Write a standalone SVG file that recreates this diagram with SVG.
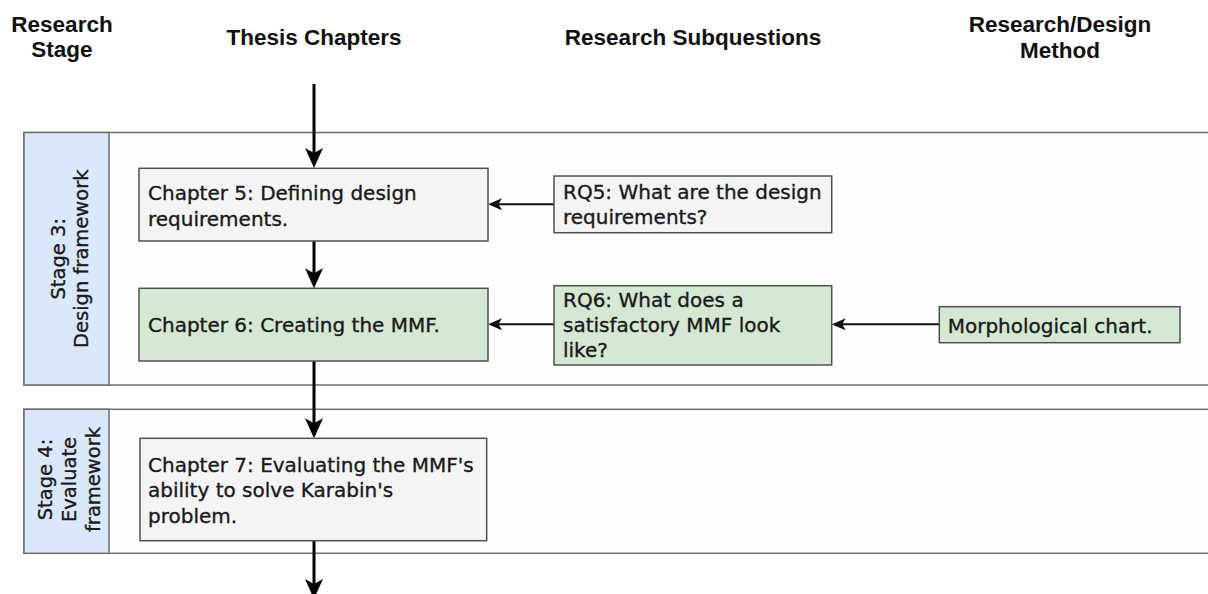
<svg xmlns="http://www.w3.org/2000/svg" width="1208" height="594" viewBox="0 0 1208 594">
  <style>
    .hdr { font-family: "Liberation Sans", Arial, sans-serif; font-weight: bold; font-size: 22.5px; fill: #111; text-anchor: middle; }
    .lane { fill: #fdfdfd; stroke: #6e6e6e; stroke-width: 1.5; }
    .lanelbl { fill: #dae8fc; stroke: #6e6e6e; stroke-width: 1.5; }
    .lbl { font-family: "DejaVu Sans", Verdana, sans-serif; font-size: 19.5px; fill: #1a1a1a; stroke: #1a1a1a; stroke-width: 0.35; text-anchor: middle; }
    .grey { fill: #f4f4f4; stroke: #505050; stroke-width: 1.5; }
    .green { fill: #d5e8d4; stroke: #505050; stroke-width: 1.5; }
    .txt { font-family: "DejaVu Sans", Verdana, sans-serif; font-size: 20px; fill: #1a1a1a; stroke: #1a1a1a; stroke-width: 0.35; }
    .flow { stroke: #000; stroke-width: 3; fill: none; marker-end: url(#bigArrow); }
    .feed { stroke: #111; stroke-width: 2; fill: none; marker-end: url(#smallArrow); }
  </style>
  <defs>
    <marker id="bigArrow" markerUnits="userSpaceOnUse" markerWidth="20" markerHeight="18" refX="10" refY="9" orient="auto">
      <path d="M0,0 L20,9 L0,18 L5,9 z" fill="#000"/>
    </marker>
    <marker id="smallArrow" markerUnits="userSpaceOnUse" markerWidth="14" markerHeight="12" refX="7" refY="6" orient="auto">
      <path d="M0,0 L14,6 L0,12 L3.5,6 z" fill="#111"/>
    </marker>
  </defs>

  <rect width="1208" height="594" fill="#ffffff"/>

  <!-- column headers -->
  <g id="headers">
    <text class="hdr" x="62" y="32">Research</text>
    <text class="hdr" x="62" y="57">Stage</text>
    <text class="hdr" x="314" y="45">Thesis Chapters</text>
    <text class="hdr" x="693" y="45">Research Subquestions</text>
    <text class="hdr" x="1060" y="32">Research/Design</text>
    <text class="hdr" x="1060" y="58">Method</text>
  </g>

  <!-- swimlane: stage 3 -->
  <g id="lane-stage3">
    <rect class="lane" x="24" y="132.5" width="1200" height="252.5"/>
    <rect class="lanelbl" x="24" y="132.5" width="85" height="252.5"/>
    <g transform="translate(0,258.75) rotate(-90)">
      <text class="lbl" x="0" y="65">Stage 3:</text>
      <text class="lbl" x="0" y="88">Design framework</text>
    </g>
  </g>

  <!-- swimlane: stage 4 -->
  <g id="lane-stage4">
    <rect class="lane" x="24" y="409.3" width="1200" height="144"/>
    <rect class="lanelbl" x="24" y="409.3" width="85" height="144"/>
    <g transform="translate(0,479.5) rotate(-90)">
      <text class="lbl" x="0" y="52">Stage 4:</text>
      <text class="lbl" x="0" y="76">Evaluate</text>
      <text class="lbl" x="0" y="100">framework</text>
    </g>
  </g>

  <!-- connectors -->
  <g id="connectors">
    <line class="flow" x1="314" y1="84" x2="314" y2="158"/>
    <line class="flow" x1="314" y1="241" x2="314" y2="278.3"/>
    <line class="flow" x1="314" y1="361" x2="314" y2="428.3"/>
    <line class="flow" x1="314" y1="540.7" x2="314" y2="589"/>
    <line class="feed" x1="554" y1="204.3" x2="495" y2="204.3"/>
    <line class="feed" x1="554" y1="324.3" x2="495" y2="324.3"/>
    <line class="feed" x1="939.3" y1="324.3" x2="838.7" y2="324.3"/>
  </g>

  <!-- chapter nodes -->
  <g id="ch5">
    <rect class="grey" x="139" y="168.3" width="349" height="72.7"/>
    <text class="txt" x="148" y="200">Chapter 5: Defining design</text>
    <text class="txt" x="148" y="225.5">requirements.</text>
  </g>
  <g id="ch6">
    <rect class="green" x="139" y="288.3" width="349" height="72.7"/>
    <text class="txt" x="148" y="331.5">Chapter 6: Creating the MMF.</text>
  </g>
  <g id="ch7">
    <rect class="grey" x="140" y="438.3" width="346.7" height="102.4"/>
    <text class="txt" x="148" y="471.5">Chapter 7: Evaluating the MMF's</text>
    <text class="txt" x="148" y="497">ability to solve Karabin's</text>
    <text class="txt" x="148" y="522.5">problem.</text>
  </g>

  <!-- research subquestion nodes -->
  <g id="rq5">
    <rect class="grey" x="554" y="176" width="277.7" height="56.7"/>
    <text class="txt" x="563" y="199">RQ5: What are the design</text>
    <text class="txt" x="563" y="223.5">requirements?</text>
  </g>
  <g id="rq6">
    <rect class="green" x="554" y="285.7" width="277.7" height="79.3"/>
    <text class="txt" x="563" y="306.7">RQ6: What does a</text>
    <text class="txt" x="563" y="332">satisfactory MMF look</text>
    <text class="txt" x="563" y="357">like?</text>
  </g>

  <!-- method node -->
  <g id="morph">
    <rect class="green" x="939.3" y="306.7" width="240.7" height="36"/>
    <text class="txt" x="947.7" y="333">Morphological chart.</text>
  </g>
</svg>
